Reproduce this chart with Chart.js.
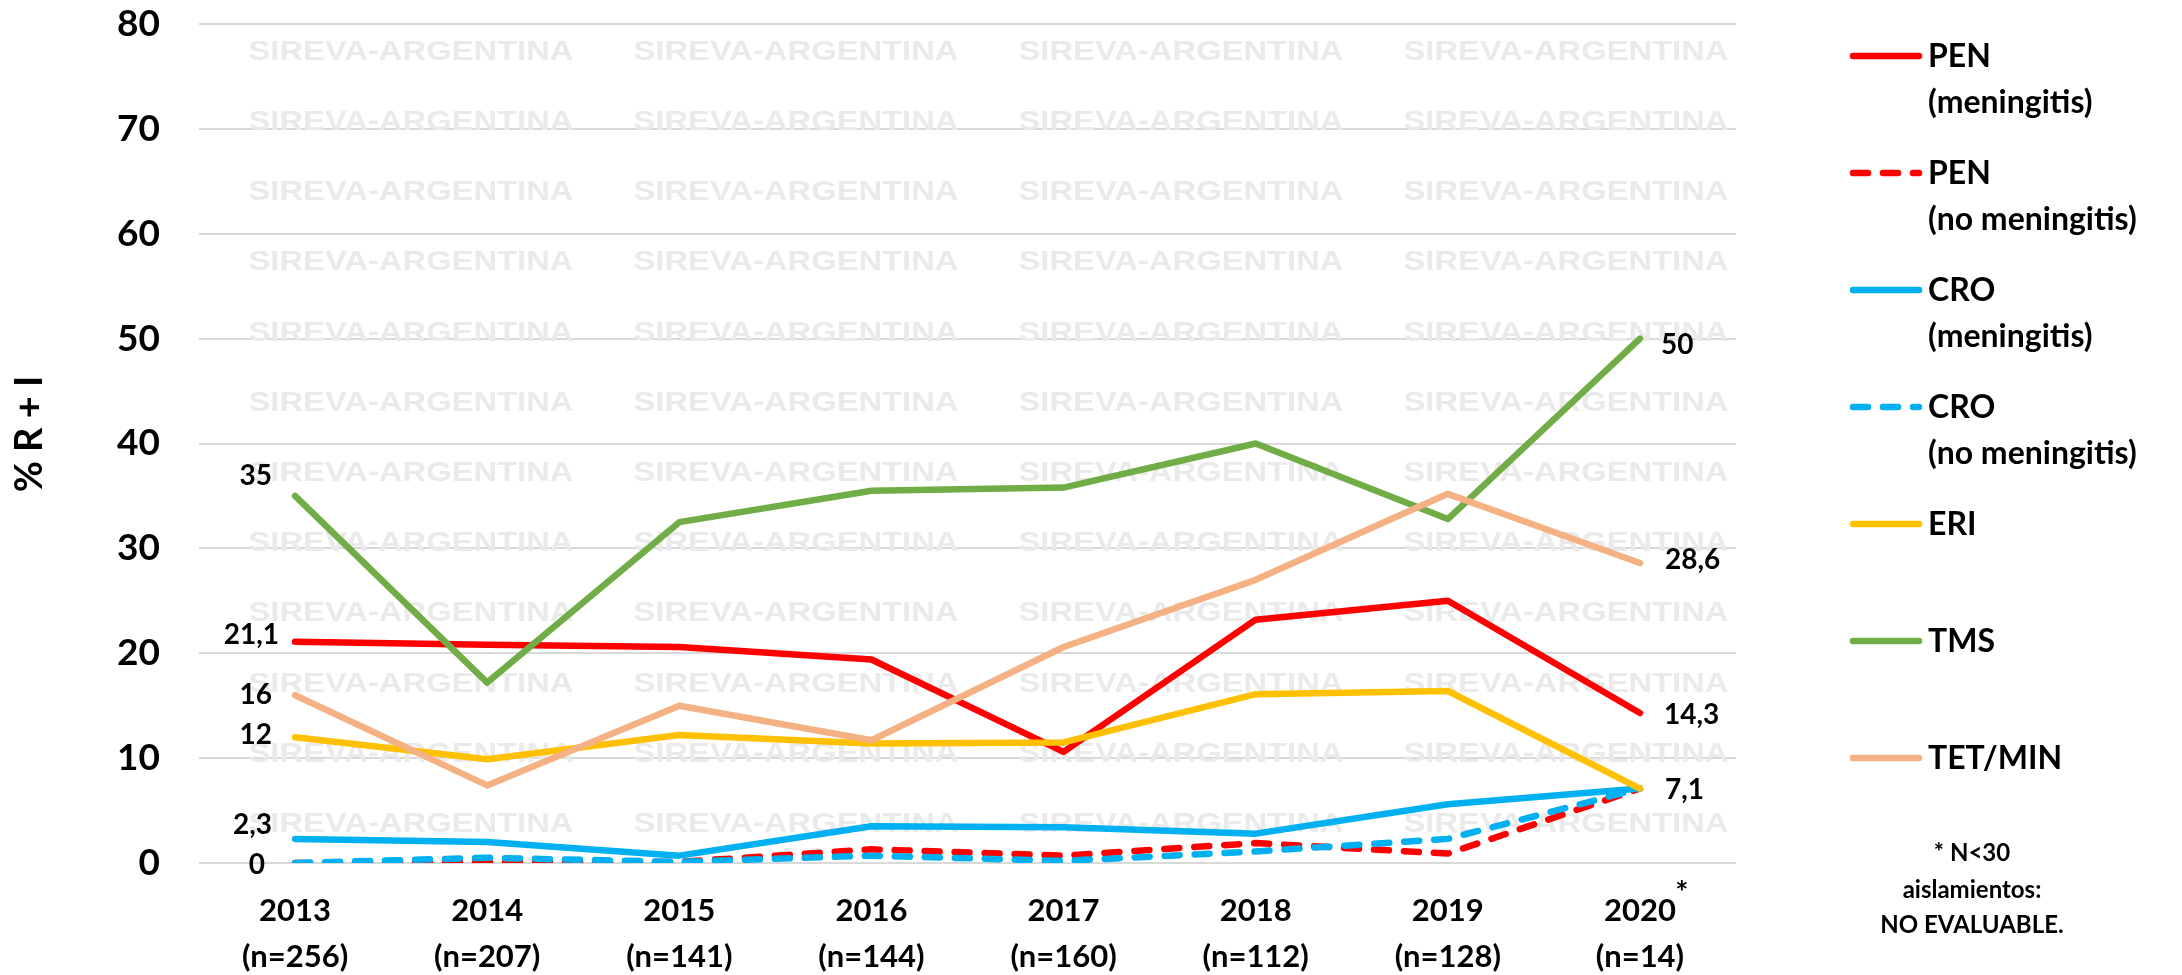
<!DOCTYPE html>
<html>
<head>
<meta charset="utf-8">
<script src="https://cdn.jsdelivr.net/npm/chart.js@4.4.1/dist/chart.umd.min.js"></script>
<style>
html, body { margin: 0; padding: 0; background: #ffffff; }
canvas { display: block; }
</style>
</head>
<body>
<canvas id="c" width="2182" height="975"></canvas>
<script>
// ---------- DATA ----------
const categories = [
  ["2013", "(n=256)"], ["2014", "(n=207)"], ["2015", "(n=141)"], ["2016", "(n=144)"],
  ["2017", "(n=160)"], ["2018", "(n=112)"], ["2019", "(n=128)"], ["2020", "(n=14)"]
];
const seriesNames = [
  ["PEN", "(meningitis)"], ["PEN", "(no meningitis)"], ["CRO", "(meningitis)"],
  ["CRO", "(no meningitis)"], ["ERI"], ["TMS"], ["TET/MIN"]
];
const penMen   = [21.1, 20.8, 20.6, 19.4, 10.6, 23.2, 25.0, 14.3];
const penNoMen = [0, 0.1, 0.1, 1.3, 0.7, 1.9, 0.9, 7.1];
const croMen   = [2.3, 2.0, 0.7, 3.5, 3.4, 2.8, 5.6, 7.1];
const croNoMen = [0, 0.5, 0.1, 0.7, 0.2, 1.1, 2.3, 7.1];
const eri      = [12, 9.9, 12.2, 11.4, 11.5, 16.1, 16.4, 7.1];
const tms      = [35, 17.2, 32.5, 35.5, 35.8, 40.0, 32.8, 50];
const tetMin   = [16, 7.4, 15.0, 11.7, 20.6, 27.0, 35.2, 28.6];
const yTickLabels = ["0", "10", "20", "30", "40", "50", "60", "70", "80"];
const yTitle = "% R + I";
const footnote = ["* N<30", "aislamientos:", "NO EVALUABLE."];
const watermarkText = "SIREVA-ARGENTINA";

// ---------- STYLE ----------
const FONT = "Lato";
const colors = ["#FF0000", "#FF0000", "#00B0F0", "#00B0F0", "#FFC000", "#70AD47", "#F4B183"];
const dashed = [false, true, false, true, false, false, false];
const seriesData = [penMen, penNoMen, croMen, croNoMen, eri, tms, tetMin];
const DASH = [15, 15];
const LW = 6.5;
// data label offsets (first point: right aligned, last point: left aligned)
const startLabelOffsets = { 0: [-16, -7], 2: [-23, -14], 3: [-30, 2], 4: [-23, -2], 5: [-23, -20], 6: [-23, 0] };
const endLabelOffsets = { 0: [24, 2], 4: [25, 1], 5: [21, 6], 6: [25, -3] };

function fmt(v) { return String(v).replace(".", ","); }

const datasets = seriesData.map((d, i) => ({
  label: seriesNames[i].join(" "),
  data: d,
  borderColor: colors[i],
  backgroundColor: colors[i],
  borderWidth: LW,
  borderDash: dashed[i] ? DASH : [],
  borderCapStyle: "round",
  borderJoinStyle: "round",
  pointRadius: 0,
  pointHoverRadius: 0,
  tension: 0,
  fill: false,
  order: seriesData.length - 1 - i
}));

const decor = {
  id: "decor",
  beforeDatasetsDraw(chart) {
    const ctx = chart.ctx;
    ctx.save();
    ctx.font = "bold 28px 'Liberation Sans', Arial, sans-serif";
    ctx.fillStyle = "#eaeaea";
    ctx.textAlign = "center";
    ctx.textBaseline = "middle";
    const w = ctx.measureText(watermarkText).width;
    const sx = 325 / w;
    for (let c = 0; c < 4; c++) {
      for (let r = 0; r < 12; r++) {
        const cx = 411 + c * 385;
        const cy = 52 + r * 70.2;
        ctx.save();
        ctx.translate(cx, cy);
        ctx.scale(sx, 1);
        ctx.fillText(watermarkText, 0, 0);
        ctx.restore();
      }
    }
    ctx.restore();
  },
  afterDatasetsDraw(chart) {
    const ctx = chart.ctx;
    ctx.save();
    ctx.font = "bold 28px " + FONT;
    ctx.fillStyle = "#000";
    ctx.textBaseline = "middle";
    const n = categories.length;
    seriesData.forEach((d, i) => {
      const meta = chart.getDatasetMeta(i);
      if (startLabelOffsets[i]) {
        const p = meta.data[0];
        ctx.textAlign = "right";
        ctx.fillText(fmt(d[0]), p.x + startLabelOffsets[i][0], p.y + startLabelOffsets[i][1]);
      }
      if (endLabelOffsets[i]) {
        const p = meta.data[n - 1];
        ctx.textAlign = "left";
        ctx.fillText(fmt(d[n - 1]), p.x + endLabelOffsets[i][0], p.y + endLabelOffsets[i][1]);
      }
    });
    ctx.restore();
  },
  afterDraw(chart) {
    const ctx = chart.ctx;
    ctx.save();
    // y axis title
    ctx.font = "bold 38px " + FONT;
    ctx.fillStyle = "#000";
    ctx.textAlign = "center";
    ctx.textBaseline = "middle";
    ctx.translate(30, 434);
    ctx.rotate(-Math.PI / 2);
    ctx.fillText(yTitle, 0, 0);
    ctx.restore();

    // asterisk on last category
    ctx.save();
    const xs = chart.scales.x;
    ctx.font = "bold 31px " + FONT;
    ctx.fillStyle = "#000";
    ctx.textAlign = "center";
    ctx.textBaseline = "middle";
    ctx.fillText("*", xs.getPixelForValue(categories.length - 1) + 42, 893);
    ctx.restore();

    // legend
    ctx.save();
    const x0 = 1853, x1 = 1919, tx = 1928;
    seriesNames.forEach((lines, i) => {
      const y = 56 + i * 117;
      ctx.beginPath();
      ctx.strokeStyle = colors[i];
      ctx.lineWidth = LW;
      ctx.lineCap = "round";
      ctx.setLineDash(dashed[i] ? DASH : []);
      ctx.moveTo(x0, y);
      ctx.lineTo(x1, y);
      ctx.stroke();
      ctx.setLineDash([]);
      ctx.font = "bold 32px " + FONT;
      ctx.fillStyle = "#000";
      ctx.textAlign = "left";
      ctx.textBaseline = "middle";
      lines.forEach((t, k) => ctx.fillText(t, tx, y + 1 + k * 46));
    });
    ctx.restore();

    // footnote
    ctx.save();
    ctx.font = "bold 24px " + FONT;
    ctx.fillStyle = "#000";
    ctx.textAlign = "center";
    ctx.textBaseline = "middle";
    [853, 890, 925].forEach((y, k) => ctx.fillText(footnote[k], 1972, y));
    ctx.restore();
  }
};

function build() {
  new Chart(document.getElementById("c"), {
    type: "line",
    data: { labels: categories, datasets: datasets },
    options: {
      responsive: false,
      animation: false,
      layout: { padding: { left: 0, right: 446, top: 24, bottom: 0 } },
      plugins: { legend: { display: false }, tooltip: { enabled: false } },
      scales: {
        x: {
          offset: true,
          grid: { display: false },
          border: { display: false },
          ticks: {
            color: "#000",
            font: { family: FONT, weight: "bold", size: 31, lineHeight: 46 / 31 },
            padding: 17,
            maxRotation: 0,
            autoSkip: false
          },
          afterFit: (s) => { s.height = 112; }
        },
        y: {
          min: 0,
          max: 80,
          ticks: {
            stepSize: 10,
            color: "#000",
            font: { family: FONT, weight: "bold", size: 37 },
            padding: 0,
            callback: (v) => yTickLabels[Math.round(v / 10)]
          },
          grid: { color: "#d9d9d9", lineWidth: 2, drawTicks: true, tickLength: 39, tickColor: "rgba(0,0,0,0)" },
          border: { display: false },
          afterFit: (s) => { s.width = 199; }
        }
      }
    },
    plugins: [decor]
  });
}

if (document.fonts && document.fonts.load) {
  Promise.all([
    document.fonts.load("bold 30px Lato"),
    document.fonts.load("bold 28px 'Liberation Sans'")
  ]).then(build, build);
} else {
  build();
}
</script>
</body>
</html>
